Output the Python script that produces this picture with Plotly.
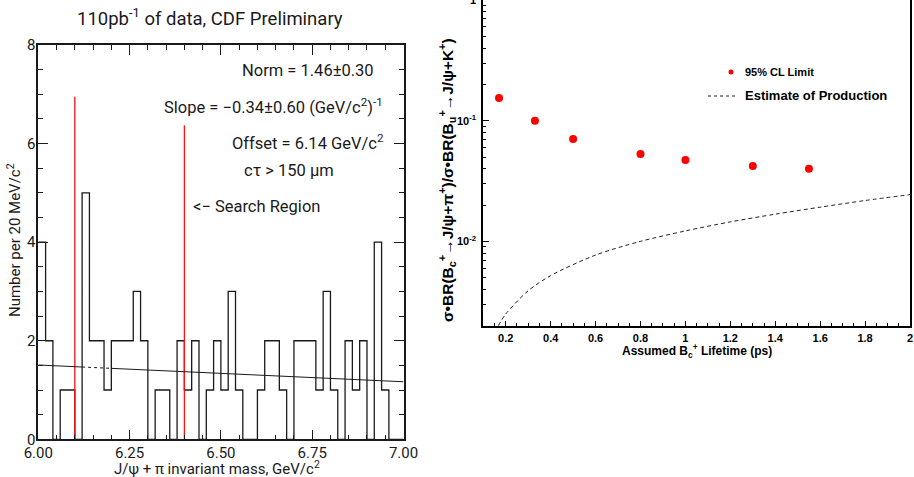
import numpy as np
import plotly.graph_objects as go

# ---------------- data ----------------
# left panel: J/psi + pi invariant mass histogram, 20 MeV bins from 6.00 to 7.00 GeV
bin_start = 6.00
bin_width = 0.02
counts = [4, 2, 0, 1, 1, 0, 5, 2, 2, 1,
          2, 2, 2, 3, 2, 0, 1, 1, 0, 2,
          1, 2, 0, 1, 2, 1, 3, 1, 0, 0,
          1, 2, 2, 1, 0, 2, 2, 2, 1, 3,
          1, 0, 2, 1, 2, 0, 4, 1, 0, 0]
search_edges = [6.10, 6.40]
search_heights = [6.95, 6.37]
fit_norm = 1.46
fit_slope = -0.34
fit_offset = 6.14
fit_x_solid1 = [6.00, 6.12]
fit_x_dotted = [6.12, 6.20]
fit_x_solid2 = [6.20, 7.00]
mass_ticks = [6.00, 6.25, 6.50, 6.75, 7.00]
count_ticks = [0, 2, 4, 6, 8]

# right panel: limits vs assumed Bc lifetime
lifetime = [0.17, 0.33, 0.50, 0.80, 1.00, 1.30, 1.55]
limit_95 = [0.154, 0.100, 0.0705, 0.053, 0.0472, 0.0422, 0.040]
prod_lifetime = [0.167, 0.20, 0.30, 0.40, 0.60, 0.80, 1.00, 1.20, 1.40, 1.60, 1.80, 2.00]
prod_estimate = [0.0020, 0.0025, 0.0039, 0.0052, 0.0077, 0.0100, 0.0122, 0.0145, 0.0168, 0.0192, 0.0218, 0.0244]
life_ticks = [0.2, 0.4, 0.6, 0.8, 1.0, 1.2, 1.4, 1.6, 1.8, 2.0]
life_ticktext = ["0.2", "0.4", "0.6", "0.8", "1", "1.2", "1.4", "1.6", "1.8", "2"]
ratio_ticks = [0.01, 0.1, 1]
ratio_ticktext = ["10<sup>-2</sup>", "10<sup>-1</sup>", "1"]

# ---------------- figure ----------------
W, H = 914, 477
def px(x):
    return x / W
def py(y):
    return 1 - y / H

LFONT = "Roboto"
RFONT = "Liberation Sans"
ink = "#1a1a1a"

fig = go.Figure()

edges = bin_start + bin_width * np.arange(len(counts) + 1)
ystep = list(counts) + [counts[-1]]
fig.add_trace(go.Scatter(x=edges, y=ystep, mode="lines", line_shape="hv",
                         line=dict(color=ink, width=1.3), xaxis="x", yaxis="y",
                         showlegend=False, hoverinfo="skip"))

for xe, he in zip(search_edges, search_heights):
    fig.add_trace(go.Scatter(x=[xe, xe], y=[0, he], mode="lines",
                             line=dict(color="#ff1010", width=1.3),
                             xaxis="x", yaxis="y", showlegend=False))

def fit(m):
    return [fit_norm + fit_slope * (v - fit_offset) for v in m]

for seg, dash in [(fit_x_solid1, "solid"), (fit_x_dotted, "dot"), (fit_x_solid2, "solid")]:
    fig.add_trace(go.Scatter(x=seg, y=fit(seg), mode="lines",
                             line=dict(color=ink, width=1, dash=dash),
                             xaxis="x", yaxis="y", showlegend=False))

fig.add_trace(go.Scatter(x=prod_lifetime, y=prod_estimate, mode="lines",
                         line=dict(color="#222", width=1, dash="4px,3px", shape="spline", smoothing=0.8),
                         xaxis="x2", yaxis="y2", showlegend=False))
fig.add_trace(go.Scatter(x=lifetime, y=limit_95, mode="markers",
                         marker=dict(color="#ff0000", size=8, line=dict(width=0)),
                         xaxis="x2", yaxis="y2", showlegend=False))

minor_log = [d * 10.0 ** e for e in (-3, -2, -1) for d in range(2, 10)]

fig.update_layout(
    width=W, height=H,
    margin=dict(l=0, r=0, t=0, b=0, autoexpand=False),
    paper_bgcolor="white", plot_bgcolor="white",
    xaxis=dict(domain=[px(38.3), px(403.5)], range=[6.0, 7.0], anchor="y", automargin=False,
               tickvals=mass_ticks, ticktext=[f"{v:.2f}" for v in mass_ticks],
               ticks="inside", ticklen=10, tickwidth=1, tickcolor=ink,
               minor=dict(dtick=0.05, ticks="inside", ticklen=5, tickwidth=1, tickcolor=ink),
               showline=True, linecolor=ink, linewidth=1.5, mirror="ticks",
               showgrid=False, zeroline=False,
               tickfont=dict(family=LFONT, size=15, color=ink), ticklabelstandoff=-1),
    yaxis=dict(domain=[py(439.3), py(45)], range=[0, 8], anchor="x", automargin=False,
               tickvals=count_ticks,
               ticks="inside", ticklen=10, tickwidth=1, tickcolor=ink,
               minor=dict(dtick=0.5, ticks="inside", ticklen=5, tickwidth=1, tickcolor=ink),
               showline=True, linecolor=ink, linewidth=1.5, mirror="ticks",
               showgrid=False, zeroline=False,
               tickfont=dict(family=LFONT, size=15, color=ink), ticklabelstandoff=-2),
    xaxis2=dict(domain=[px(483.3), px(910)], range=[0.1, 2.0], anchor="y2", automargin=False,
                tickvals=life_ticks, ticktext=life_ticktext,
                ticks="inside", ticklen=5, tickwidth=1, tickcolor="black",
                minor=dict(dtick=0.05, tick0=0, ticks="inside", ticklen=3, tickwidth=1, tickcolor="black"),
                showline=True, linecolor="black", linewidth=2, mirror=True,
                showgrid=False, zeroline=False,
                tickfont=dict(family=RFONT, size=11, color="black", weight="bold"),
                ticklabelstandoff=1),
    yaxis2=dict(domain=[py(325.7), 1.0], type="log", range=[np.log10(0.002), 0], anchor="x2",
                automargin=False, ticklabeloverflow="allow",
                tickvals=ratio_ticks, ticktext=ratio_ticktext,
                ticks="inside", ticklen=6, tickwidth=1, tickcolor="black",
                minor=dict(tickvals=minor_log, ticks="inside", ticklen=3, tickwidth=1, tickcolor="black"),
                showline=True, linecolor="black", linewidth=2, mirror=True,
                showgrid=False, zeroline=False,
                tickfont=dict(family=RFONT, size=11, color="black", weight="bold"),
                ticklabelstandoff=3),
)

ann = []
def txt(x, y, s, size, xanchor="left", family=LFONT, weight="normal", angle=0, color=ink):
    ann.append(dict(x=px(x), y=py(y), xref="paper", yref="paper", text=s, showarrow=False,
                    xanchor=xanchor, yanchor="middle", textangle=angle,
                    font=dict(family=family, size=size, color=color, weight=weight)))

txt(210, 18, "110pb<sup>-1</sup> of data, CDF Preliminary", 18.5, xanchor="center")
txt(240, 70, "Norm = 1.46±0.30", 16.5)
txt(162, 106, "Slope = −0.34±0.60 (GeV/c<sup>2</sup>)<sup>-1</sup>", 16.5)
txt(230, 142, "Offset = 6.14 GeV/c<sup>2</sup>", 16.5)
txt(242, 170, "cτ > 150 μm", 16.5)
txt(191, 206, "<− Search Region", 16.5)
txt(217, 468, "J/ψ + π invariant mass, GeV/c<sup>2</sup>", 15, xanchor="center")
txt(14, 240, "Number per 20 MeV/c<sup>2</sup>", 15, xanchor="center", angle=-90)

txt(447, 180, "σ•BR(B<sub>c</sub><sup>+</sup>→J/ψ+π<sup>+</sup>)/σ•BR(B<sub>u</sub><sup>+</sup>→J/ψ+K<sup>+</sup>)",
    15.5, xanchor="center", family=RFONT, weight="bold", angle=-90, color="black")
txt(697, 351, "Assumed B<sub>c</sub><sup>+</sup> Lifetime (ps)", 12, xanchor="center",
    family=RFONT, weight="bold", color="black")
txt(743, 72, "95% CL Limit", 11, family=RFONT, weight="bold", color="black")
txt(743, 96, "Estimate of Production", 13, family=RFONT, weight="bold", color="black")

fig.update_layout(annotations=ann)
fig.update_layout(shapes=[
    dict(type="circle", xref="paper", yref="paper", x0=px(728.5), x1=px(733.5),
         y0=py(74.5), y1=py(69.5), fillcolor="#ff0000", line=dict(width=0)),
    dict(type="line", xref="paper", yref="paper", x0=px(708), x1=px(737),
         y0=py(96), y1=py(96), line=dict(color="#222", width=1, dash="dot")),
])

fig.write_html("out.html", config={"displayModeBar": False},
               post_script="document.body.style.margin='0px';")
